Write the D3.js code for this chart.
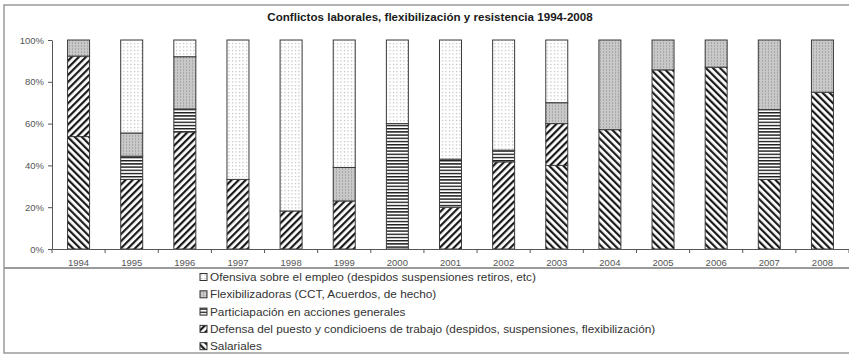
<!DOCTYPE html>
<html>
<head>
<meta charset="utf-8">
<script src="https://cdn.jsdelivr.net/npm/d3@7"></script>
<style>
  body { margin: 0; background: #fff; }
  svg { display: block; font-family: "Liberation Sans", Arial, sans-serif; }
</style>
</head>
<body>
<svg id="chart" width="849" height="356"></svg>
<script>
// Years on the x axis
const years = ["1994","1995","1996","1997","1998","1999","2000","2001","2002","2003","2004","2005","2006","2007","2008"];

// Share (%) of each conflict type per year, stacked from bottom to top
const salariales     = [53.8, 0,    0,  0,    0,    0,  0,  0,  0,    40, 57.1, 85.7, 87, 33.3, 75];
const defensa        = [38.5, 33.3, 56, 33.3, 18.2, 23, 0,  20, 41.7, 20, 0,    0,    0,  0,    0];
const participacion  = [0,    11.1, 11, 0,    0,    0,  60, 23, 5.6,  0,  0,    0,    0,  33.4, 0];
const flexibilizadoras = [7.7, 11.1, 25, 0,    0,    16, 0,  0,  0,    10, 42.9, 14.3, 13, 33.3, 25];
const ofensiva       = [0,    44.5, 8,  66.7, 81.8, 61, 40, 57, 52.7, 30, 0,    0,    0,  0,    0];

const seriesNames = [
  "Salariales",
  "Defensa del puesto y condicioens de trabajo (despidos, suspensiones, flexibilización)",
  "Particiapación en acciones generales",
  "Flexibilizadoras (CCT, Acuerdos, de hecho)",
  "Ofensiva sobre el empleo (despidos suspensiones retiros, etc)"
];
const seriesKeys = ["sal", "def", "par", "flex", "of"];
const seriesValues = [salariales, defensa, participacion, flexibilizadoras, ofensiva];

const yTicks = [0, 20, 40, 60, 80, 100];
const title = "Conflictos laborales, flexibilización y resistencia 1994-2008";

const rows = years.map((y, i) => {
  const r = { year: y };
  seriesKeys.forEach((k, j) => { r[k] = seriesValues[j][i]; });
  return r;
});

const svg = d3.select("#chart");

// ---- fill patterns ----
const defs = svg.append("defs");

function stripes(id, angle, gap, width) {
  const p = defs.append("pattern").attr("id", id)
    .attr("patternUnits", "userSpaceOnUse")
    .attr("width", gap).attr("height", gap)
    .attr("patternTransform", `rotate(${angle})`);
  p.append("rect").attr("width", gap).attr("height", gap).attr("fill", "#fff");
  p.append("rect").attr("x", 0).attr("y", 0).attr("width", width).attr("height", gap).attr("fill", "#1a1a1a");
}
stripes("p-sal", -45, 5, 2.2);
stripes("p-def", 45, 5, 2.2);

{
  const p = defs.append("pattern").attr("id", "p-par")
    .attr("patternUnits", "userSpaceOnUse").attr("width", 4).attr("height", 3.2);
  p.append("rect").attr("width", 4).attr("height", 3.2).attr("fill", "#fff");
  p.append("rect").attr("y", 0).attr("width", 4).attr("height", 1.4).attr("fill", "#1a1a1a");
}
{
  const p = defs.append("pattern").attr("id", "p-flex")
    .attr("patternUnits", "userSpaceOnUse").attr("width", 3).attr("height", 3);
  p.append("rect").attr("width", 3).attr("height", 3).attr("fill", "#c8c8c8");
  p.append("rect").attr("x", 0).attr("width", 1).attr("height", 2).attr("fill", "#a8a8a8");
}
{
  const p = defs.append("pattern").attr("id", "p-of")
    .attr("patternUnits", "userSpaceOnUse").attr("width", 3.5).attr("height", 3.5);
  p.append("rect").attr("width", 3.5).attr("height", 3.5).attr("fill", "#fff");
  p.append("rect").attr("x", 1).attr("y", 1).attr("width", 1).attr("height", 1).attr("fill", "#9a9a9a");
}

// ---- frame ----
svg.append("rect").attr("x", 4).attr("y", 5).attr("width", 850).attr("height", 348)
  .attr("fill", "none").attr("stroke", "#9a9a9a").attr("stroke-width", 1.5);
svg.append("line").attr("x1", 4).attr("x2", 849).attr("y1", 268).attr("y2", 268)
  .attr("stroke", "#9a9a9a").attr("stroke-width", 1.8);

// ---- title ----
svg.append("text").attr("x", 430).attr("y", 21).attr("text-anchor", "middle")
  .attr("font-size", 11.6).attr("font-weight", "bold").attr("fill", "#1a1a1a").text(title);

// ---- scales ----
const x = d3.scaleBand().domain(years).range([52, 849]).paddingInner(0.586).paddingOuter(0.293);
const y = d3.scaleLinear().domain([0, 100]).range([249, 40]);

const stack = d3.stack().keys(seriesKeys);
const layers = stack(rows);

const g = svg.append("g");
g.selectAll("g.layer").data(layers).join("g")
  .attr("class", "layer")
  .attr("fill", d => `url(#p-${d.key})`)
  .selectAll("rect").data(d => d.filter(v => v[1] - v[0] > 0))
  .join("rect")
  .attr("x", d => x(d.data.year))
  .attr("width", x.bandwidth())
  .attr("y", d => y(d[1]))
  .attr("height", d => y(d[0]) - y(d[1]))
  .attr("stroke", "#3a3a3a").attr("stroke-width", 1);

// ---- axes ----
const yAxis = d3.axisLeft(y).tickValues(yTicks).tickSize(4).tickSizeOuter(0).tickFormat(d => d + "%");
const ya = svg.append("g").attr("transform", "translate(52,0)").call(yAxis);
ya.select(".domain").attr("stroke", "#555");
ya.selectAll(".tick line").attr("stroke", "#555");
ya.selectAll(".tick text").attr("font-size", 9.5).attr("fill", "#555").attr("x", -8)
  .attr("font-family", "Liberation Sans, Arial, sans-serif");

const xa = svg.append("g").attr("transform", "translate(0,249)")
  .call(d3.axisBottom(x).tickSize(0).tickSizeOuter(0));
xa.select(".domain").attr("stroke", "#555");
xa.selectAll(".tick text").attr("font-size", 9.5).attr("fill", "#555").attr("y", 10)
  .attr("font-family", "Liberation Sans, Arial, sans-serif");

// tick marks between categories
const bounds = d3.range(years.length + 1).map(i => 52 + i * x.step());
svg.append("g").selectAll("line").data(bounds).join("line")
  .attr("x1", d => d).attr("x2", d => d).attr("y1", 249).attr("y2", 253)
  .attr("stroke", "#555");

// ---- legend (top to bottom: reverse stack order) ----
const legendOrder = d3.range(seriesKeys.length).reverse();
const lg = svg.append("g").selectAll("g").data(legendOrder).join("g")
  .attr("transform", (d, i) => `translate(200,${277 + i * 17.3})`);
lg.append("rect").attr("x", 0).attr("y", -3.5).attr("width", 7).attr("height", 7)
  .attr("fill", d => `url(#p-${seriesKeys[d]})`).attr("stroke", "#333").attr("stroke-width", 1);
lg.append("text").attr("x", 10).attr("y", 0).attr("dy", "0.35em")
  .attr("font-size", 11.8).attr("fill", "#333").text(d => seriesNames[d]);
</script>
</body>
</html>
